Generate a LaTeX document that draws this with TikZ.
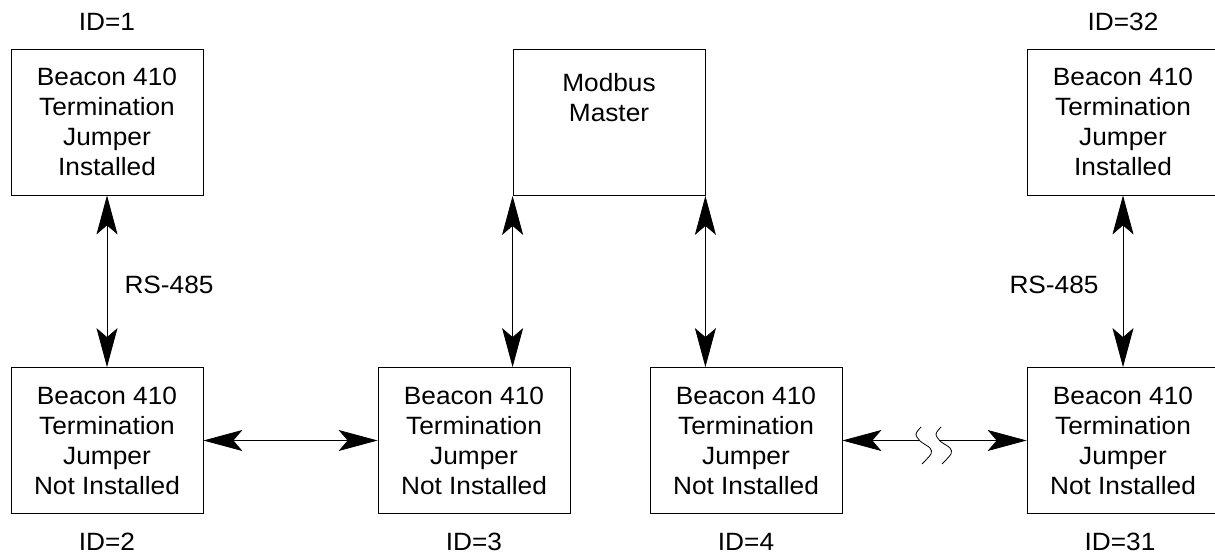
\documentclass[tikz,border=0pt]{standalone}
\usepackage{fontspec}
\setmainfont{Liberation Sans}[FakeStretch=1.05]
\usetikzlibrary{arrows.meta}
\tikzset{
  box/.style={draw, line width=0.8pt, minimum width=192pt, minimum height=146pt,
    inner sep=0pt, align=center, font=\fontsize{25}{30}\selectfont},
  lbl/.style={inner sep=0pt, align=center, font=\fontsize{25}{30}\selectfont},
  tip/.tip={Stealth[length=39pt,width=21pt,inset=9pt]},
  dar/.style={line width=0.8pt, tip-tip},
  sar/.style={line width=0.8pt, -tip},
  brk/.style={line width=0.8pt}
}
\begin{document}
\begin{tikzpicture}[x=1pt,y=-1pt]
\useasboundingbox (0,0) rectangle (1215,556);
\clip (0,0) rectangle (1215,556);
% boxes
\node[box] (b1)  at (107,122) {Beacon 410\\Termination\\Jumper\\Installed};
\node[box] (b32) at (1123,122) {Beacon 410\\Termination\\Jumper\\Installed};
\node[box] (mm)  at (609,122.5) {};
\node[lbl, anchor=north] (mmt) at (609,73) {Modbus\\Master};
\node[box] (b2)  at (107,440.5) {Beacon 410\\Termination\\Jumper\\Not Installed};
\node[box] (b3)  at (474,440.5) {Beacon 410\\Termination\\Jumper\\Not Installed};
\node[box] (b4)  at (746,440.5) {Beacon 410\\Termination\\Jumper\\Not Installed};
\node[box] (b31) at (1123,440.5) {Beacon 410\\Termination\\Jumper\\Not Installed};
% labels
\node[lbl] (id1)  at (107,22) {ID=1};
\node[lbl] (id32) at (1123,22) {ID=32};
\node[lbl] (id2)  at (107,542) {ID=2};
\node[lbl] (id3)  at (474,542) {ID=3};
\node[lbl] (id4)  at (746,542) {ID=4};
\node[lbl] (id31) at (1120,542) {ID=31};
\node[lbl] (rs1)  at (169,285) {RS-485};
\node[lbl] (rs2)  at (1054,285) {RS-485};
% connectors
\draw[dar] (b1.south) -- (b2.north);
\draw[dar] (b32.south) -- (b31.north);
\draw[dar] (mm.south west) -- (mm.south west |- b3.north);
\draw[dar] (mm.south east) -- (mm.south east |- b4.north);
\draw[dar] (b2.east) -- (b3.west);
\coordinate (brL) at (919,440.5);
\coordinate (brR) at (939,440.5);
\draw[sar] (brL) -- (b4.east);
\draw[sar] (brR) -- (b31.west);
% break marks
\draw[brk] plot[smooth] coordinates {(921,427) (916,434) (920,441) (930,448) (931,454) (922,464)};
\draw[brk] plot[smooth] coordinates {(941,427) (936,434) (940,441) (950,448) (951,454) (942,464)};
\end{tikzpicture}
\end{document}
